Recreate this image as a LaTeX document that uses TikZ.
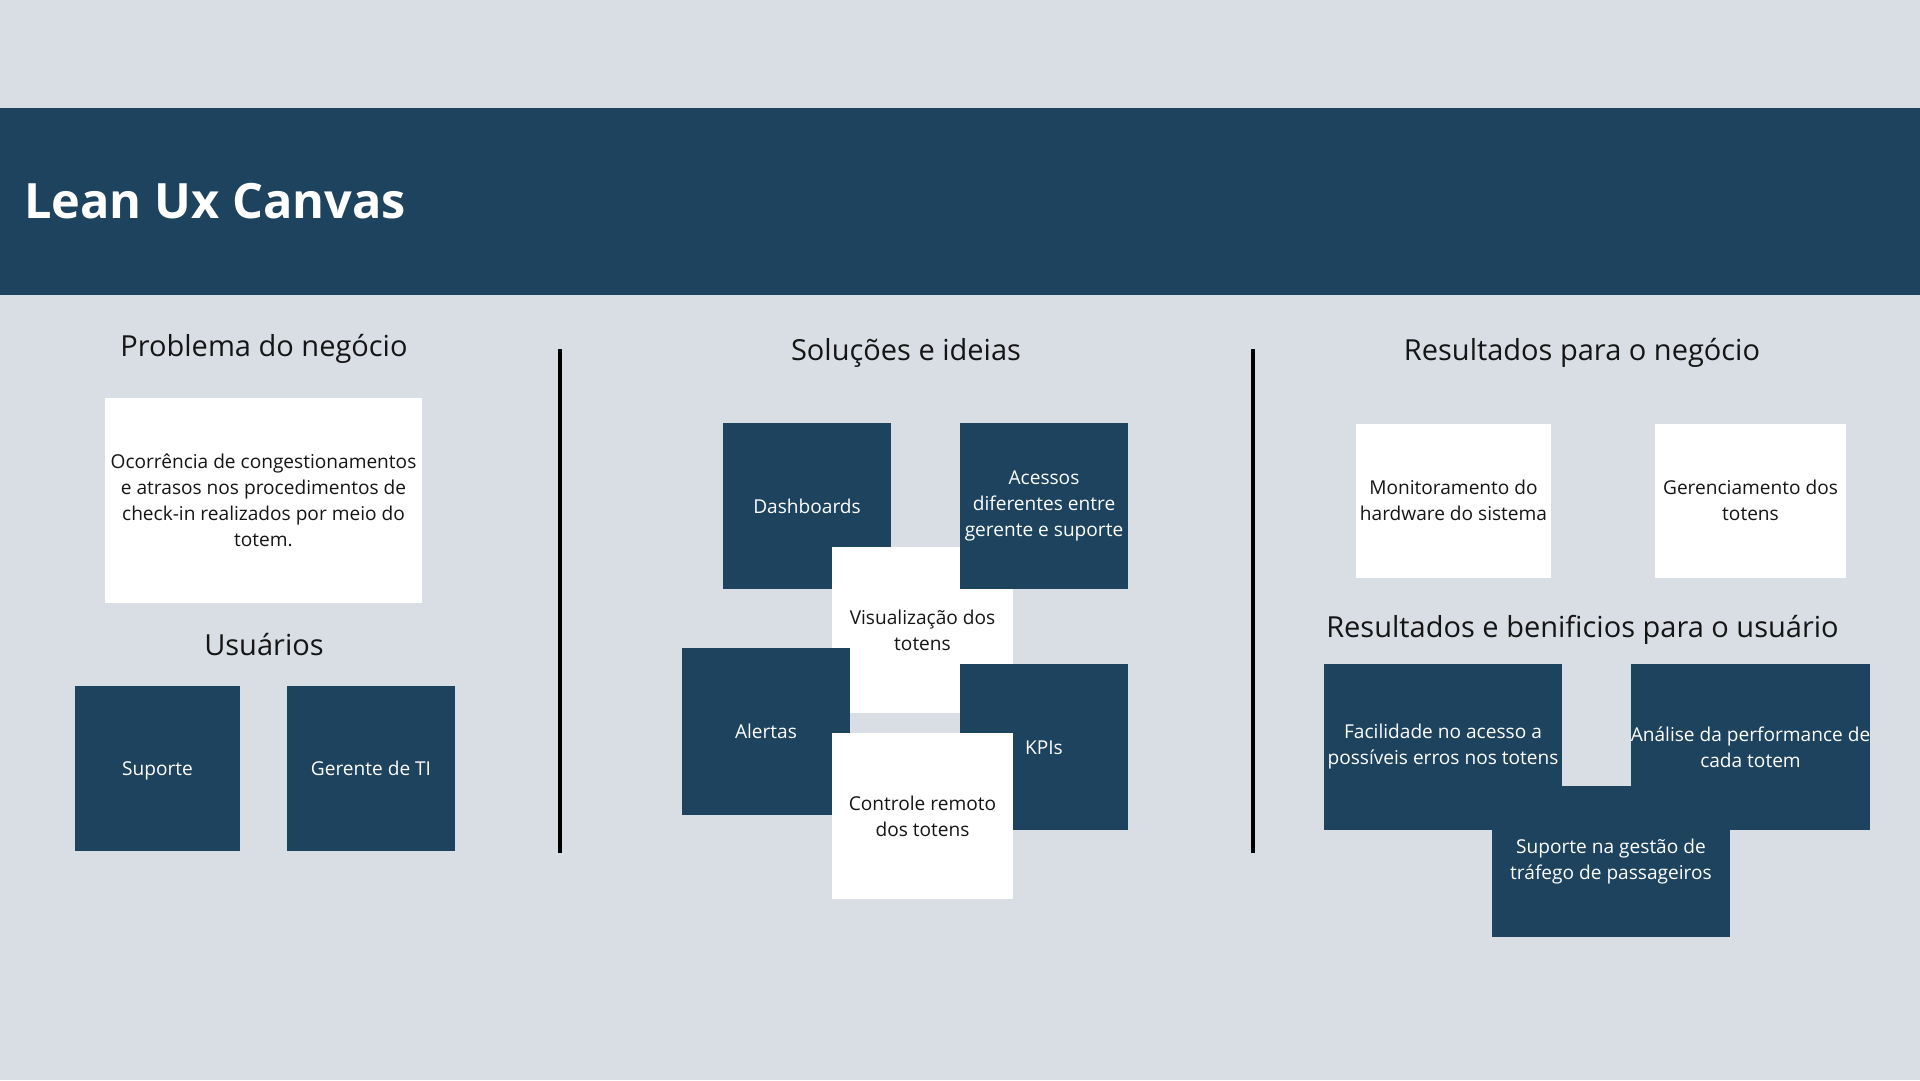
\documentclass[tikz,border=0pt]{standalone}
\usepackage{fontspec}
\setmainfont{Open Sans}
\definecolor{bg}{HTML}{D9DEE5}
\definecolor{navy}{HTML}{1D435E}
\definecolor{ink}{HTML}{151515}
\begin{document}
\begin{tikzpicture}[x=1pt,y=-1pt,
  card/.style={rectangle, inner sep=0pt, align=center, font=\fontsize{19.1}{26}\selectfont},
  oneline/.style={text height=16pt, text depth=1.5pt},
  darkcard/.style={card, fill=navy, text=white},
  whitecard/.style={card, fill=white, text=ink},
  heading/.style={anchor=base, font=\fontsize{29}{35}\selectfont, text=ink},
  divider/.style={line width=3.5pt, black}]
\fill[bg] (0,0) rectangle (1920,1080);
\useasboundingbox (0,0) rectangle (1920,1080);
\fill[navy] (0,108) rectangle (1920,295);
\node[anchor=base west, inner sep=0pt, text=white, font=\bfseries\fontsize{48.7}{58}\selectfont] (title) at (24,218) {Lean Ux Canvas};

% dividers
\coordinate (d1t) at (560,349); \coordinate (d1b) at (560,853);
\coordinate (d2t) at (1253,349); \coordinate (d2b) at (1253,853);
\draw[divider] (d1t) -- (d1b);
\draw[divider] (d2t) -- (d2b);

% left column
\node[heading] (hprob) at (264,356) {Problema do negócio};
\node[whitecard, minimum width=317pt, minimum height=205pt] (prob) at (263.5,500)
  {Ocorrência de congestionamentos\\e atrasos nos procedimentos de\\check-in realizados por meio do\\totem.};
\node[heading] (husr) at (264,655) {Usuários};
\node[darkcard, oneline, minimum width=165pt, minimum height=165pt] (sup) at (157.5,768.5) {Suporte};
\node[darkcard, oneline, minimum width=168pt, minimum height=165pt] (ger) at (371,768.5) {Gerente de TI};

% middle column
\node[heading] (hsol) at (906,360) {Soluções e ideias};
\node[darkcard, oneline, minimum width=168pt, minimum height=166pt] (dash) at (807,506) {Dashboards};
\node[whitecard, minimum width=181pt, minimum height=166pt] (vis) at (922.5,630) {Visualização dos\\totens};
\node[darkcard, minimum width=168pt, minimum height=166pt] (acc) at (1044,506) {Acessos\\diferentes entre\\gerente e suporte};
\node[darkcard, oneline, minimum width=168pt, minimum height=167pt] (alr) at (766,731.5) {Alertas};
\node[darkcard, oneline, minimum width=168pt, minimum height=166pt] (kpi) at (1044,747) {KPIs};
\node[whitecard, minimum width=181pt, minimum height=166pt] (ctl) at (922.5,816) {Controle remoto\\dos totens};

% right column
\node[heading] (hres) at (1582,360) {Resultados para o negócio};
\node[whitecard, minimum width=195pt, minimum height=154pt] (mon) at (1453.5,500.5) {Monitoramento do\\hardware do sistema};
\node[whitecard, minimum width=191pt, minimum height=154pt] (gen) at (1750.5,500.5) {Gerenciamento dos\\totens};
\node[heading] (hben) at (1582.5,637.5) {Resultados e benificios para o usuário};
\node[darkcard, minimum width=238pt, minimum height=151pt] (sgp) at (1611,861.5) {Suporte na gestão de\\tráfego de passageiros};
\node[darkcard, minimum width=238pt, minimum height=166pt] (fac) at (1443,747) {Facilidade no acesso a\\possíveis erros nos totens};
\node[darkcard, minimum width=239pt, minimum height=166pt] (ana) at (1750.5,747) {Análise da performance de\\cada totem};
\end{tikzpicture}
\end{document}
